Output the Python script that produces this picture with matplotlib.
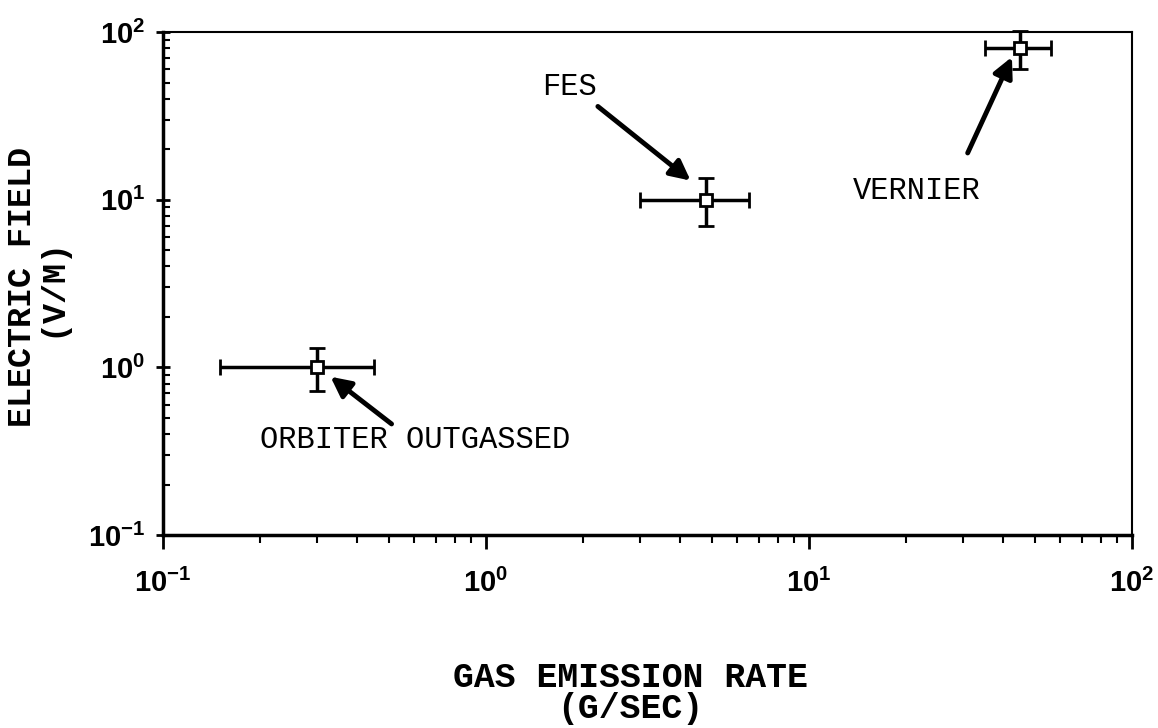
import matplotlib
matplotlib.use("Agg")
import matplotlib.pyplot as plt
from matplotlib.ticker import LogLocator, FuncFormatter
import math

plt.rcParams['mathtext.fontset'] = 'custom'
plt.rcParams['mathtext.rm'] = 'Liberation Sans:bold'
plt.rcParams['mathtext.bf'] = 'Liberation Sans:bold'
plt.rcParams['mathtext.it'] = 'Liberation Sans:bold'
plt.rcParams['mathtext.sf'] = 'Liberation Sans:bold'

# data
names = ["ORBITER OUTGASSED", "FES", "VERNIER"]
rate = [0.30, 4.8, 45.0]
rate_lo = [0.15, 3.0, 35.0]
rate_hi = [0.45, 6.5, 56.0]
field = [1.0, 10.0, 80.0]
field_lo = [0.72, 7.0, 60.0]
field_hi = [1.3, 13.5, 102.0]

# annotations: (text position, arrow tail, arrow head)
label_pos = [(0.20, 0.37), (1.49, 47.0), (13.7, 11.3)]
arrow_tail = [(0.51, 0.46), (2.22, 36.0), (31.0, 19.0)]
arrow_head = [(0.33, 0.88), (4.3, 13.0), (42.5, 71.0)]

fig = plt.figure(figsize=(11.58, 7.28), dpi=100)
ax = fig.add_axes([0.1408, 0.265, 0.8367, 0.691])

xerr = [[r - lo for r, lo in zip(rate, rate_lo)], [hi - r for r, hi in zip(rate, rate_hi)]]
yerr = [[f - lo for f, lo in zip(field, field_lo)], [hi - f for f, hi in zip(field, field_hi)]]
eb = ax.errorbar(rate, field, xerr=xerr, yerr=yerr, fmt='s', mfc='white', mec='black',
                 mew=2, ms=8, ecolor='black', elinewidth=2.5, capsize=6, capthick=2.5,
                 zorder=3)
for artist in eb.get_children():
    artist.set_clip_on(False)

ax.set_xscale('log')
ax.set_yscale('log')
ax.set_xlim(0.1, 100)
ax.set_ylim(0.1, 100)

def fmt(v, pos):
    e = int(round(math.log10(v)))
    return r'$\mathrm{10^{%d}}$' % e

ax.xaxis.set_major_formatter(FuncFormatter(fmt))
ax.yaxis.set_major_formatter(FuncFormatter(fmt))
ax.xaxis.set_minor_locator(LogLocator(base=10, subs=range(2, 10)))
ax.yaxis.set_minor_locator(LogLocator(base=10, subs=range(2, 10)))
ax.xaxis.set_minor_formatter(plt.NullFormatter())
ax.yaxis.set_minor_formatter(plt.NullFormatter())

ax.tick_params(axis='x', which='major', direction='out', length=10, width=2, labelsize=21, pad=14)
ax.tick_params(axis='x', which='minor', direction='out', length=6, width=1.5)
ax.tick_params(axis='y', which='major', direction='inout', length=10, width=2, labelsize=21, pad=8)
ax.tick_params(axis='y', which='minor', direction='in', length=5, width=1.5)

for s in ['left', 'bottom']:
    ax.spines[s].set_linewidth(2.5)
for s in ['top', 'right']:
    ax.spines[s].set_linewidth(1.5)

for name, lp, tail, head in zip(names, label_pos, arrow_tail, arrow_head):
    ax.text(lp[0], lp[1], name, fontfamily='Liberation Mono', fontsize=22,
            ha='left', va='center')
    ax.annotate('', xy=head, xytext=tail,
                arrowprops=dict(arrowstyle='-|>,head_length=1.2,head_width=0.6',
                                lw=3.5, color='black', shrinkA=0, shrinkB=0))

lab = dict(fontfamily='Liberation Mono', fontweight='bold')
fig.text(630 / 1158, 1 - 693 / 728, "GAS EMISSION RATE\n(G/SEC)", ha='center',
         va='center', ma='center', fontsize=25, linespacing=0.95, **lab)
fig.text(37 / 1158, 1 - 287 / 728, "ELECTRIC FIELD\n(V/M)", ha='center',
         va='center', ma='center', rotation=90, fontsize=24, linespacing=0.95, **lab)

fig.savefig('out.png', dpi=100)
